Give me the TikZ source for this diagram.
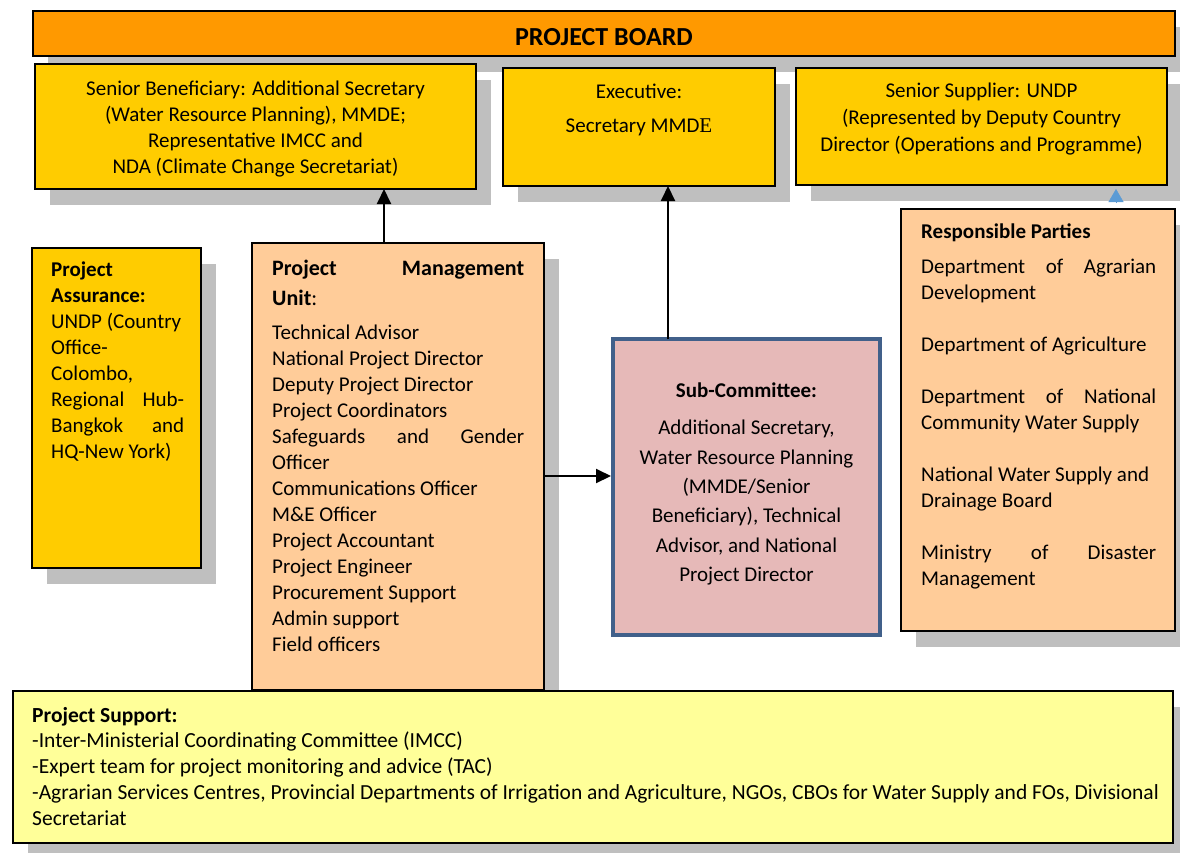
\documentclass[tikz,border=0pt]{standalone}
\usepackage{fontspec}
\setmainfont{Carlito}
\newfontfamily\timesfont{Liberation Serif}
\usetikzlibrary{positioning,arrows.meta,shadows}

\definecolor{boardorange}{RGB}{255,153,0}
\definecolor{boxgold}{RGB}{255,204,0}
\definecolor{boxpeach}{RGB}{255,204,153}
\definecolor{subpink}{RGB}{230,185,184}
\definecolor{subblue}{RGB}{65,96,138}
\definecolor{supportyellow}{RGB}{255,255,153}
\definecolor{shadowgray}{RGB}{191,191,191}
\definecolor{tipblue}{RGB}{91,155,213}

\begin{document}
\begin{tikzpicture}[x=1pt, y=-1pt,
    box/.style={draw=black, line width=1.6pt, anchor=north west, inner sep=0pt, outer sep=0pt,
      drop shadow={shadow xshift=15pt, shadow yshift=-16pt, fill=shadowgray, opacity=1}},
    txt/.style={inner sep=0pt, font=\fontsize{21}{26}\selectfont},
    list/.style={txt, align=flush left, execute at begin node={\hyphenpenalty=10000\relax}},
    link/.style={line width=2pt, -{Triangle[length=15pt,width=14pt]}}]
    \useasboundingbox (0,0) rectangle (1180,852);
    \clip (0,0) rectangle (1180,852);

    \node[box, fill=boardorange, minimum width=1142pt, minimum height=45pt] (board) at (33,11) {};
    \node[font=\fontsize{26}{30}\selectfont\bfseries, yshift=-4pt] at (board.center) {PROJECT BOARD};

    \node[box, fill=boxgold, minimum width=441pt, minimum height=125pt] (senben) at (35,64) {};
    \node[txt, align=center, yshift=-3pt] at (senben.center) {Senior Beneficiary: Additional Secretary\\
        (Water Resource Planning), MMDE;\\ Representative IMCC and\\ NDA (Climate Change Secretariat)};

    \node[box, fill=boxgold, minimum width=272pt, minimum height=118pt] (exec) at (503,68) {};
    \node[txt, align=center, below=12pt of exec.north] {\strut Executive:\\[8pt] Secretary MMD{\timesfont E}};

    \node[box, fill=boxgold, minimum width=371pt, minimum height=117pt] (supplier) at (796,68) {};
    \node[txt, font=\fontsize{21}{27}\selectfont, align=center, below=10pt of supplier.north]
        {\strut Senior Supplier: UNDP\\ (Represented by Deputy Country\\ Director (Operations and Programme)};

    \node[box, fill=boxgold, minimum width=169pt, minimum height=320pt] (assur) at (32,248) {};
    \node[list, text width=133pt, below right=10pt and 19pt of assur.north west]
        {\strut\textbf{Project}\\ \textbf{Assurance:}\\ UNDP (Country\\ Office-\\ Colombo,\\
        Regional \hfill Hub-\\ Bangkok \hfill and\\ HQ-New York)};

    \node[box, fill=boxpeach, minimum width=292pt, minimum height=447pt] (pmu) at (252,243) {};
    \node[list, font=\fontsize{22}{30}\selectfont, text width=252pt, below right=11pt and 20pt of pmu.north west]
        {\strut\textbf{Project \hfill Management}\\ \textbf{Unit}:};
    \node[list, text width=252pt, below right=78pt and 20pt of pmu.north west]
        {\strut Technical Advisor\\ National Project Director\\ Deputy Project Director\\ Project Coordinators\\
        Safeguards \hfill and \hfill Gender\\ Officer\\ Communications Officer\\ M\&E Officer\\
        Project Accountant\\ Project Engineer\\ Procurement Support\\ Admin support\\ Field officers};

    \node[draw=subblue, line width=4.5pt, fill=subpink, anchor=north west, inner sep=0pt, outer sep=0pt,
        minimum width=267pt, minimum height=296pt] (sub) at (613,339) {};
    \node[txt, font=\fontsize{21}{29.4}\selectfont, align=center, below=38pt of sub.north]
        {\strut\textbf{Sub-Committee:}\\[7.6pt] Additional Secretary,\\ Water Resource Planning\\ (MMDE/Senior\\
        Beneficiary), Technical\\ Advisor, and National\\ Project Director};

    \node[box, fill=boxpeach, minimum width=274pt, minimum height=422pt] (resp) at (901,209) {};
    \node[list, text width=235pt, below right=11pt and 20pt of resp.north west]
        {\strut\textbf{Responsible Parties}\\[9pt] Department \hfill of \hfill Agrarian\\ Development\\[26pt]
        Department of Agriculture\\[26pt] Department \hfill of \hfill National\\ Community Water Supply\\[26pt]
        National Water Supply and\\ Drainage Board\\[26pt] Ministry \hfill of \hfill Disaster\\ Management};

    \node[box, fill=supportyellow, minimum width=1160pt, minimum height=152pt] (support) at (13,691) {};
    \node[list, font=\fontsize{21.5}{25.75}\selectfont, text width=1150pt, below right=13pt and 19pt of support.north west]
        {\strut\textbf{Project Support:}\\ -Inter-Ministerial Coordinating Committee (IMCC)\\
        -Expert team for project monitoring and advice (TAC)\\
        -Agrarian Services Centres, Provincial Departments of Irrigation and Agriculture, NGOs, CBOs for Water Supply and FOs, Divisional\\
        Secretariat};

    \coordinate (upx) at (384,0);
    \coordinate (subx) at (668,0);
    \coordinate (across) at (0,476);
    \coordinate (tipx) at (1116,0);
    \draw[link] (pmu.north -| upx) -- (upx |- senben.south);
    \draw[link] (sub.north -| subx) -- (subx |- exec.south);
    \draw[link, shorten >=2pt] (pmu.east |- across) -- (sub.west |- across);
    \draw[tipblue, -{Triangle[length=13pt,width=15pt]}, shorten <=6pt, shorten >=4pt] (resp.north -| tipx) -- (tipx |- supplier.south);
\end{tikzpicture}
\end{document}
